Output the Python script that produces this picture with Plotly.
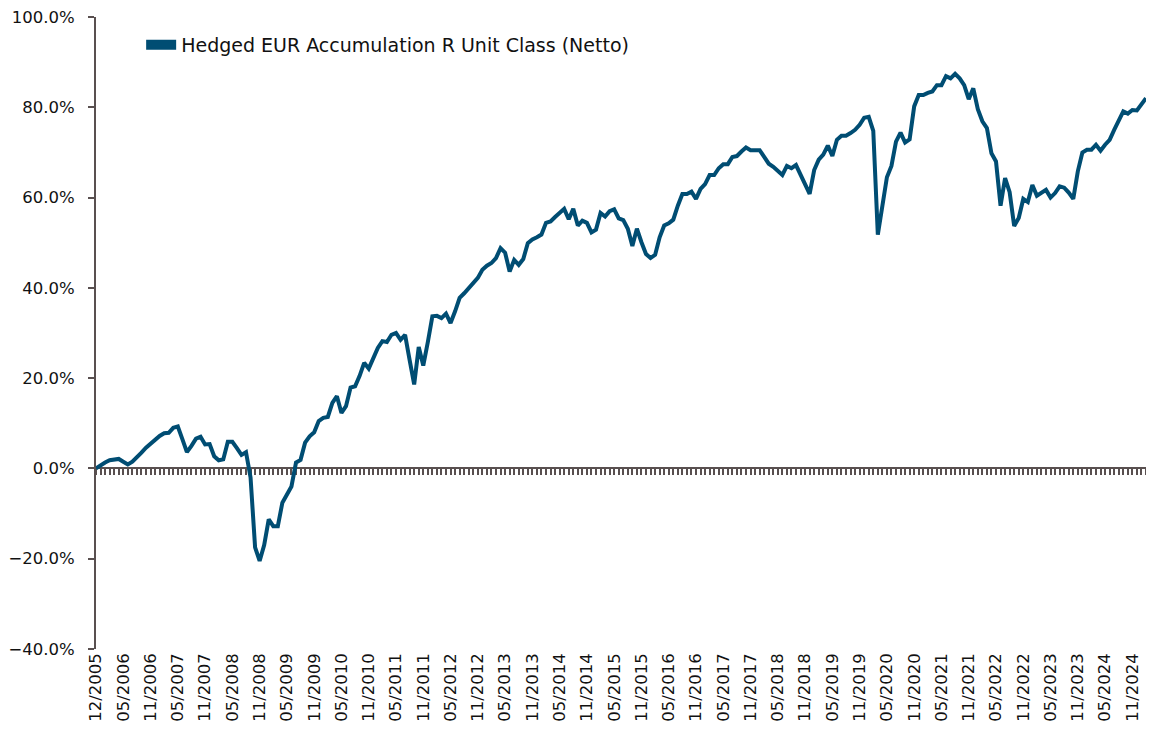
import pandas as pd
import plotly.graph_objects as go

# cumulative performance (%), month-end, starting at the 11/2005 base
RETURNS = [
    0.0, 0.7, 1.3, 1.8, 1.9, 2.1, 1.5, 0.9, 1.5, 2.4, 3.5, 4.6,
    5.5, 6.4, 7.2, 7.8, 7.9, 9.0, 9.3, 6.5, 3.6, 5.0, 6.6, 7.0,
    5.3, 5.4, 2.7, 1.8, 2.0, 5.9, 5.9, 4.5, 3.0, 3.6, -2.0, -17.5,
    -20.5, -17.0, -11.3, -12.8, -12.8, -7.6, -5.8, -4.0, 1.3, 1.9, 5.7, 7.1,
    8.0, 10.5, 11.2, 11.4, 14.5, 16.0, 12.3, 13.8, 17.9, 18.2, 20.5, 23.4,
    22.1, 24.5, 26.7, 28.2, 28.0, 29.6, 30.0, 28.5, 29.6, 24.0, 18.6, 26.9,
    22.8, 28.0, 33.7, 33.8, 33.3, 34.3, 32.2, 34.8, 37.8, 38.8, 40.0, 41.0,
    42.2, 44.0, 44.9, 45.5, 46.6, 48.8, 47.8, 43.6, 46.2, 45.1, 46.4, 49.9,
    50.7, 51.2, 51.8, 54.4, 54.7, 55.7, 56.6, 57.5, 55.2, 57.5, 53.8, 54.9,
    54.4, 52.3, 52.9, 56.6, 55.8, 57.0, 57.4, 55.4, 55.0, 53.1, 49.3, 53.1,
    50.1, 47.5, 46.6, 47.3, 51.2, 53.8, 54.3, 55.1, 58.2, 60.8, 60.8, 61.3,
    59.7, 61.9, 63.0, 65.0, 65.0, 66.5, 67.4, 67.4, 69.0, 69.2, 70.2, 71.1,
    70.5, 70.5, 70.5, 69.0, 67.5, 66.8, 65.8, 65.0, 67.0, 66.5, 67.2, 65.0,
    62.8, 60.8, 66.1, 68.4, 69.5, 71.5, 69.2, 72.8, 73.7, 73.7, 74.3, 75.0,
    76.1, 77.7, 77.9, 74.8, 51.8, 58.0, 64.5, 67.0, 72.4, 74.4, 72.2, 72.9,
    80.2, 82.7, 82.7, 83.2, 83.5, 84.9, 84.9, 86.9, 86.4, 87.4, 86.4, 84.9,
    81.8, 84.2, 79.6, 76.9, 75.4, 69.8, 68.0, 58.2, 64.3, 61.2, 53.7, 55.5,
    59.7, 59.0, 62.8, 60.4, 61.0, 61.7, 60.0, 61.0, 62.5, 62.2, 61.1, 59.7,
    65.8, 70.0, 70.6, 70.6, 71.7, 70.4, 71.7, 72.8, 75.0, 76.9, 79.1, 78.6,
    79.4, 79.3, 80.5, 82.0,
]

MONTHS = list(pd.date_range("2005-11-30", periods=len(RETURNS), freq="ME").strftime("%m/%Y"))

TICK_LABELS = [
    "12/2005", "05/2006", "11/2006", "05/2007", "11/2007", "05/2008", "11/2008",
    "05/2009", "11/2009", "05/2010", "11/2010", "05/2011", "11/2011", "05/2012",
    "11/2012", "05/2013", "11/2013", "05/2014", "11/2014", "05/2015", "11/2015",
    "05/2016", "11/2016", "05/2017", "11/2017", "05/2018", "11/2018", "05/2019",
    "11/2019", "05/2020", "11/2020", "05/2021", "11/2021", "05/2022", "11/2022",
    "05/2023", "11/2023", "05/2024", "11/2024",
]

SERIES_NAME = "Hedged EUR Accumulation R Unit Class (Netto)"
LINE_COLOR = "#004d73"
AXIS_COLOR = "#595050"
TICK_FONT = dict(family="DejaVu Sans", size=16.5, color="#111111")
LEGEND_FONT = dict(family="DejaVu Sans", size=19, color="#111111")

Y_MIN, Y_MAX = -40, 100
n = len(RETURNS)

fig = go.Figure()
fig.add_trace(
    go.Scatter(
        x=MONTHS,
        y=RETURNS,
        mode="lines",
        line=dict(color=LINE_COLOR, width=4),
        showlegend=False,
        hoverinfo="x+y",
    )
)
# legend swatch drawn as a thick bar like the original; it also
# carries the zero-crossing axis (x2) so that axis gets rendered
fig.add_trace(
    go.Scatter(
        x=[None],
        y=[None],
        xaxis="x2",
        mode="lines",
        name=SERIES_NAME,
        line=dict(color=LINE_COLOR, width=10),
    )
)

# page body adds an 8px offset, so the figure is sized to fit inside it
fig.update_layout(
    width=1138,
    height=730,
    margin=dict(l=88, r=0, t=9, b=89),
    paper_bgcolor="white",
    plot_bgcolor="white",
    font=TICK_FONT,
    legend=dict(
        x=0.043,
        y=0.956,
        xanchor="left",
        yanchor="middle",
        bgcolor="rgba(0,0,0,0)",
        font=LEGEND_FONT,
    ),
    xaxis=dict(
        type="category",
        range=[0, n - 1],
        tickmode="array",
        tickvals=MONTHS[::6],
        ticktext=TICK_LABELS,
        tickangle=-90,
        tickfont=TICK_FONT,
        showline=False,
        showgrid=False,
        zeroline=False,
        ticks="",
        automargin=False,
        ticklabeloverflow="allow",
    ),
    # axis crossing at 0% with a tick per month
    xaxis2=dict(
        overlaying="x",
        anchor="free",
        position=(0 - Y_MIN) / (Y_MAX - Y_MIN),
        range=[0, n - 1],
        tickmode="linear",
        tick0=0,
        dtick=1,
        ticks="outside",
        ticklen=6,
        tickwidth=2,
        tickcolor=AXIS_COLOR,
        showline=True,
        linecolor=AXIS_COLOR,
        linewidth=2,
        showticklabels=False,
        showgrid=False,
        zeroline=False,
        layer="below traces",
        automargin=False,
    ),
    yaxis=dict(
        range=[Y_MIN, Y_MAX],
        dtick=20,
        tickformat=".1f",
        ticksuffix="%",
        tickfont=TICK_FONT,
        showline=True,
        linecolor=AXIS_COLOR,
        linewidth=2,
        ticks="outside",
        ticklen=6,
        tickwidth=2,
        tickcolor=AXIS_COLOR,
        ticklabelstandoff=10,
        ticklabeloverflow="allow",
        showgrid=False,
        zeroline=False,
        automargin=False,
    ),
)

fig.write_html("out.html")
